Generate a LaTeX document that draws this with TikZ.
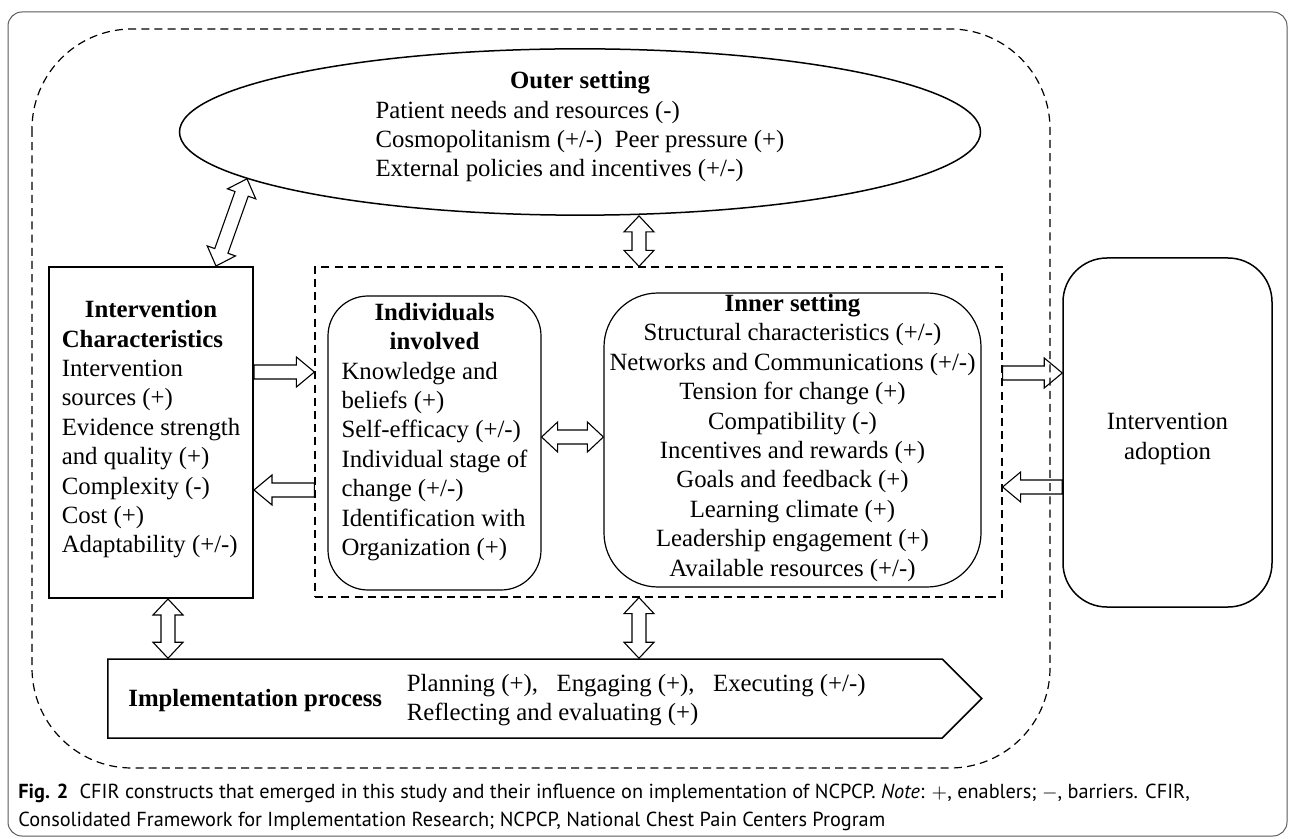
\documentclass[tikz,border=0pt]{standalone}
\usepackage{fontspec}
\setmainfont{Liberation Serif}
\newfontfamily\capfont{PT Sans}
\usetikzlibrary{shapes.geometric, shapes.symbols, calc}

\tikzset{
  txt/.style={font=\fontsize{12.4}{14.7}\selectfont, inner sep=0pt},
  box/.style={draw, line width=1pt, txt},
  roundbox/.style={draw, line width=0.6pt, txt},
  grpbox/.style={draw, line width=0.6pt, dash pattern=on 4pt off 2.6pt},
  % hollow block arrow, tip at the target
  hollow/.style={draw, line width=0.55pt, to path={
    ($(\tikztostart)!3.5pt!90:(\tikztotarget)$)
    -- ($(\tikztotarget)!9pt!(\tikztostart)!3.5pt!-90:(\tikztostart)$)
    -- ($(\tikztotarget)!9pt!(\tikztostart)!7.5pt!-90:(\tikztostart)$)
    -- (\tikztotarget)
    -- ($(\tikztotarget)!9pt!(\tikztostart)!7.5pt!90:(\tikztostart)$)
    -- ($(\tikztotarget)!9pt!(\tikztostart)!3.5pt!90:(\tikztostart)$)
    -- ($(\tikztostart)!3.5pt!-90:(\tikztotarget)$)
    -- cycle}},
  % hollow block arrow, tips at both ends
  hollowboth/.style={draw, line width=0.55pt, to path={
    ($(\tikztostart)!8pt!(\tikztotarget)!3.5pt!90:(\tikztotarget)$)
    -- ($(\tikztotarget)!8pt!(\tikztostart)!3.5pt!-90:(\tikztostart)$)
    -- ($(\tikztotarget)!8pt!(\tikztostart)!7.5pt!-90:(\tikztostart)$)
    -- (\tikztotarget)
    -- ($(\tikztotarget)!8pt!(\tikztostart)!7.5pt!90:(\tikztostart)$)
    -- ($(\tikztotarget)!8pt!(\tikztostart)!3.5pt!90:(\tikztostart)$)
    -- ($(\tikztostart)!8pt!(\tikztotarget)!3.5pt!-90:(\tikztotarget)$)
    -- ($(\tikztostart)!8pt!(\tikztotarget)!7.5pt!-90:(\tikztotarget)$)
    -- (\tikztostart)
    -- ($(\tikztostart)!8pt!(\tikztotarget)!7.5pt!90:(\tikztotarget)$)
    -- cycle}},
  caption/.style={font=\capfont\fontsize{10.15}{11}\selectfont, inner sep=0pt, anchor=base west}
}

\begin{document}
\begin{tikzpicture}[x=0.5pt,y=-0.5pt]
\useasboundingbox (0,0) rectangle (1295,839);

% frame and outer dashed region
\draw[black!65, line width=0.5pt, rounded corners=7pt] (8,12) rectangle (1287,836);
\draw[grpbox, rounded corners=50pt] (32,29) rectangle (1050,768);

\node[draw, ellipse, line width=0.75pt, minimum width=400.5pt, minimum height=76.5pt, txt] (outer) at (580,132)
  {\raisebox{2.5pt}[\height][\depth]{\begin{tabular}{@{}l@{}}\multicolumn{1}{@{}c@{}}{\textbf{Outer setting}}\\
   Patient needs and resources (-)\\
   Cosmopolitanism (+/-)\ \ Peer pressure (+)\\
   External policies and incentives (+/-)\end{tabular}}};

\node[box, minimum width=102pt, minimum height=165.5pt] (ic) at (151,432.5)
  {\raisebox{1.5pt}[\height][\depth]{\begin{tabular}{@{}l@{}}\multicolumn{1}{@{}c@{}}{\textbf{Intervention}}\\
   \textbf{Characteristics}\\
   Intervention\\ sources (+)\\ Evidence strength\\ and quality (+)\\
   Complexity (-)\\ Cost (+)\\ Adaptability (+/-)\end{tabular}}};

\node[grpbox, minimum width=343.5pt, minimum height=165pt] (grp) at (658.5,432) {};

\node[roundbox, rounded corners=20pt, minimum width=106.5pt, minimum height=147pt] (indiv) at (434.5,443)
  {\raisebox{5.5pt}[\height][\depth]{\begin{tabular}{@{}l@{}}\multicolumn{1}{@{}c@{}}{\textbf{Individuals}}\\
   \multicolumn{1}{@{}c@{}}{\textbf{involved}}\\
   Knowledge and\\ beliefs (+)\\ Self-efficacy (+/-)\\ Individual stage of\\
   change (+/-)\\ Identification with\\ Organization (+)\end{tabular}}};

\node[roundbox, rounded corners=27pt, minimum width=188.5pt, minimum height=147pt] (inner) at (792.5,440)
  {\raisebox{1pt}[\height][\depth]{\begin{tabular}{@{}c@{}}\textbf{Inner setting}\\
   Structural characteristics (+/-)\\ Networks and Communications (+/-)\\
   Tension for change (+)\\ Compatibility (-)\\ Incentives and rewards (+)\\
   Goals and feedback (+)\\ Learning climate (+)\\ Leadership engagement (+)\\
   Available resources (+/-)\end{tabular}}};

\node[roundbox, line width=0.75pt, rounded corners=22pt, minimum width=104.5pt, minimum height=174.5pt, align=center] (adopt) at (1167.5,432.5)
  {\raisebox{-3pt}[\height][\depth]{\begin{tabular}{@{}c@{}}Intervention\\ adoption\end{tabular}}};

\node[draw, signal, signal to=east, signal pointer angle=90, line width=0.75pt,
  minimum width=437pt, minimum height=39.5pt, anchor=west] (impl) at (107,698.5) {};
\node[txt, anchor=west] (impltxt) at (128,700)
  {\textbf{Implementation process}\quad
   \begin{tabular}{@{}l@{}}Planning (+),\ \ \ Engaging (+),\ \ \ Executing (+/-)\\
   Reflecting and evaluating (+)\end{tabular}};

% block arrows
\draw[hollowboth] (ic.north -| 216,0) to (outer.188);
\draw[hollowboth] (outer.south -| 639,0) to (grp.north -| 639,0);
\draw[hollow] (ic.east |- 0,372) to (grp.west |- 0,372);
\draw[hollow] (grp.west |- 0,490) to (ic.east |- 0,490);
\draw[hollowboth] (indiv.east |- 0,437) to (inner.west |- 0,437);
\draw[hollow] (grp.east |- 0,373) to (adopt.west |- 0,373);
\draw[hollow] (adopt.west |- 0,487) to (grp.east |- 0,487);
\draw[hollowboth] (ic.south -| 168,0) to (impl.north -| 168,0);
\draw[hollowboth] (grp.south -| 639,0) to (impl.north -| 639,0);

% caption
\node[caption] (cap1) at (18,798) {\textbf{Fig. 2}\hspace{0.55em}CFIR constructs that emerged in this study and their influence on implementation of NCPCP. \textit{Note}: $+$, enablers; $-$, barriers. CFIR,};
\node[caption] (cap2) at (18,826) {Consolidated Framework for Implementation Research; NCPCP, National Chest Pain Centers Program};
\end{tikzpicture}
\end{document}
